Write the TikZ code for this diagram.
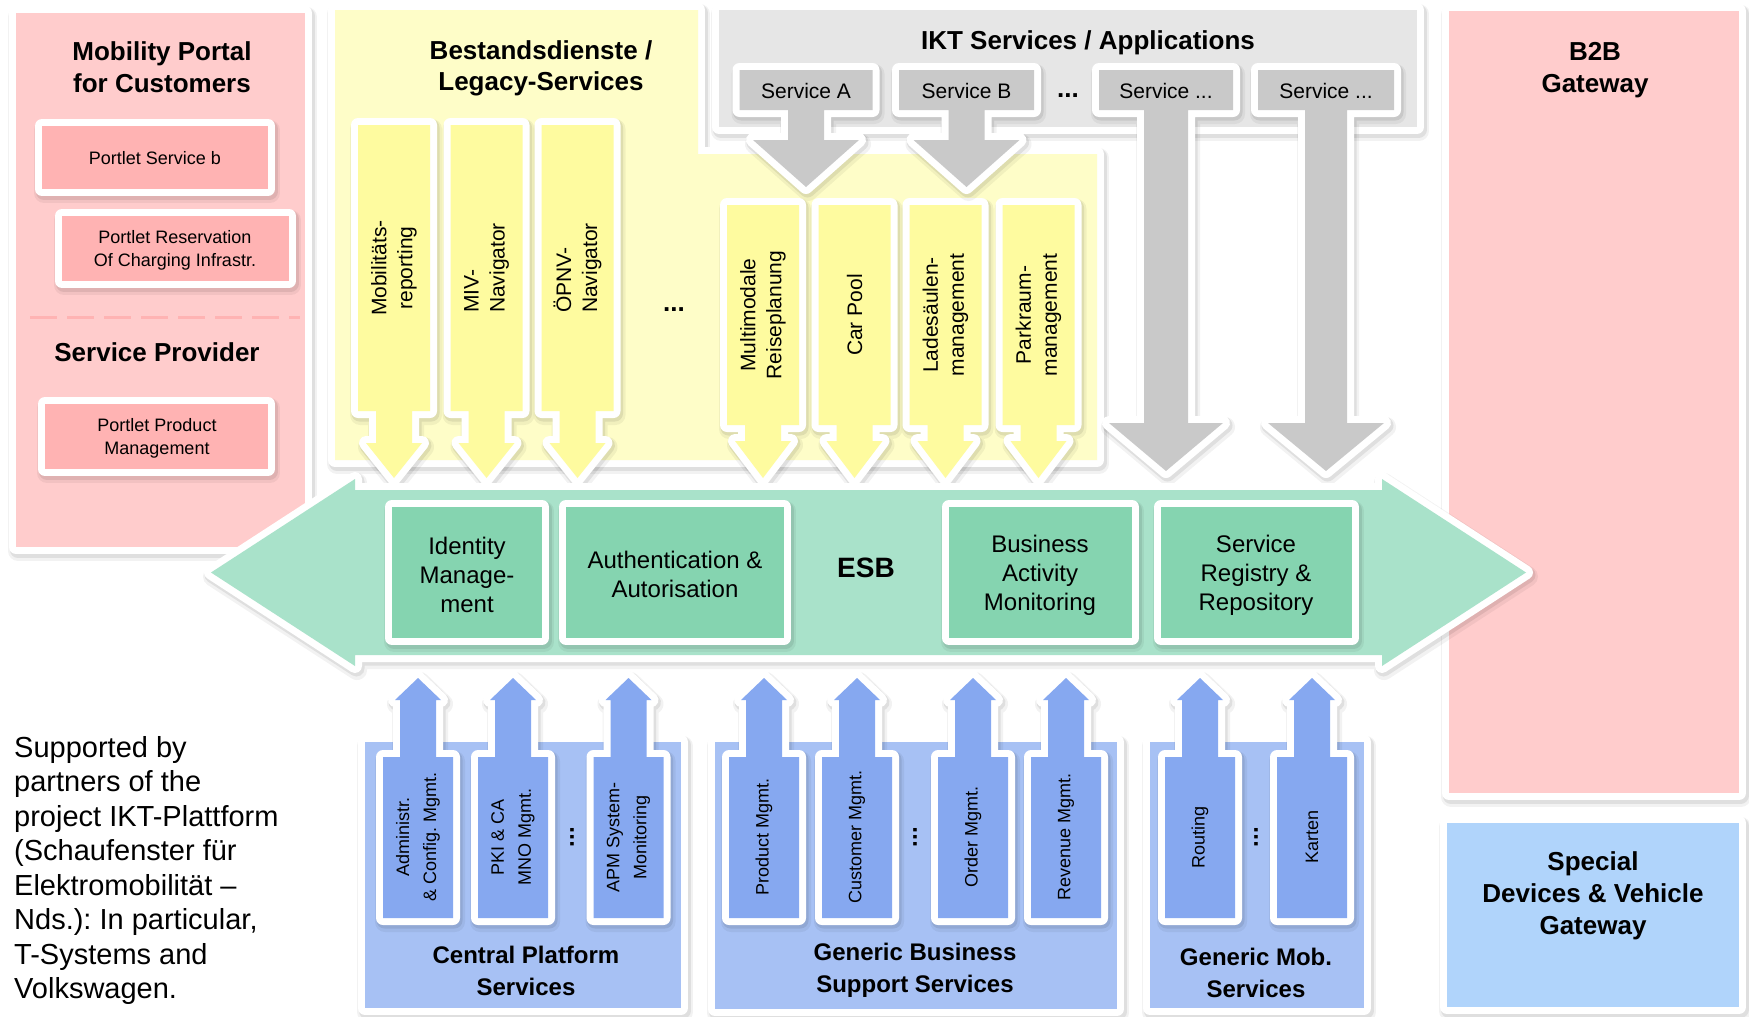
\documentclass[tikz,border=0pt]{standalone}
\usepackage{fontspec}
\setmainfont{Liberation Sans}
\frenchspacing
\newcommand\fs[2]{\fontsize{#1}{#2}\selectfont}
% outline of a vertical block arrow: centre x, body half width, body far y, body near y,
% stem half width, stem end y, head half width, tip y
\newcommand\arr[8]{({#1-#2},#3) -- ({#1+#2},#3) -- ({#1+#2},#4) -- ({#1+#5},#4) -- ({#1+#5},#6) -- ({#1+#7},#6) -- (#1,#8) -- ({#1-#7},#6) -- ({#1-#5},#6) -- ({#1-#5},#4) -- ({#1-#2},#4) -- cycle}
% a filled shape with soft shadow and white rim
\newcommand\blob[2]{\path[shA] #2; \path[shB] #2; \path[wout] #2; \path[fill=#1] #2;}
\definecolor{pinkP}{HTML}{FFCCCC}
\definecolor{pinkB}{HTML}{FFB3B3}
\definecolor{yelP}{HTML}{FEFDC8}
\definecolor{yelA}{HTML}{FEFB9F}
\definecolor{grayP}{HTML}{E6E6E6}
\definecolor{grayA}{HTML}{C9C9C9}
\definecolor{esbG}{HTML}{A9E2CA}
\definecolor{boxG}{HTML}{85D4B0}
\definecolor{blueP}{HTML}{A7C1F4}
\definecolor{blueA}{HTML}{86A8F0}
\definecolor{blueS}{HTML}{B0D4FB}
\begin{document}
\begin{tikzpicture}[x=1pt,y=-1pt,
  wout/.style={draw=white,fill=white,line width=14pt,line join=round},
  shA/.style={draw=black,fill=black,line width=20pt,line join=round,opacity=0.05,shift={(2,4)}},
  shB/.style={draw=black,fill=black,line width=16pt,line join=round,opacity=0.08,shift={(1.5,2.5)}},
  title/.style={font=\fs{26}{32}\bfseries,align=center},
  small/.style={font=\fs{18}{23},align=center},
  svc/.style={font=\fs{21}{25}},
  gtxt/.style={font=\fs{24}{29},align=center},
  ytxt/.style={font=\fs{21}{26},align=center,rotate=90},
  btxt/.style={font=\fs{18}{27},align=center,rotate=90},
  btitle/.style={font=\fs{24}{32}\bfseries,align=center},
  dots/.style={font=\fs{26}{26}\bfseries},
  vdots/.style={font=\fs{24}{24}\bfseries,rotate=90}]
\useasboundingbox (0,0) rectangle (1749,1017);
\fill[white] (0,0) rectangle (1749,1017);

% ---- panels ----
\blob{pinkP}{(16,13) rectangle (305,547)}
\blob{yelP}{(335,10) -- (698,10) -- (698,154) -- (1097,154) -- (1097,460) -- (335,460) -- cycle}
\blob{grayP}{(719,10) rectangle (1417,127)}
\blob{pinkP}{(1449,11) rectangle (1739,793)}
\blob{blueS}{(1447,823) rectangle (1739,1007)}
\blob{blueP}{(365,742) rectangle (681,1008)}
\blob{blueP}{(715,742) rectangle (1117,1009)}
\blob{blueP}{(1150,742) rectangle (1364,1008)}

% ---- portal column ----
\node[title] (portal) at (162,67) {Mobility Portal\\for Customers};
\blob{pinkB}{(42,126) rectangle (268,189)}
\node[small] (pb) at (155,158) {Portlet Service b};
\blob{pinkB}{(62,216) rectangle (289,281)}
\node[small] (pr) at (175,250) {Portlet Reservation\\Of Charging Infrastr.};
\draw[pinkB,line width=3pt,dash pattern=on 27pt off 10pt] (30,317) -- (300,317);
\node[title] (sp) at (157,352) {Service Provider};
\blob{pinkB}{(45,404) rectangle (268,469)}
\node[small] (pp) at (157,438) {Portlet Product\\Management};

% ---- legacy services ----
\node[title,font=\fs{26}{31}\bfseries] (legacy) at (541,68) {Bestandsdienste /\\Legacy-Services};
\foreach \c in {394,486.5,577.5}{\blob{yelA}{\arr{\c}{36}{125}{411}{18}{443}{28}{478}}}
\foreach \c in {763,854.5,945.5,1038.5}{\blob{yelA}{\arr{\c}{36}{205}{425}{18}{441}{28}{478}}}
\node[ytxt] (y1) at (394,268) {Mobilitäts-\\reporting};
\node[ytxt,align=left] (y2) at (486.5,268) {MIV-\\Navigator};
\node[ytxt,align=left] (y3) at (577.5,268) {ÖPNV-\\Navigator};
\node[dots] (ydots) at (674,310) {...};
\node[ytxt] (y4) at (763,315) {Multimodale\\Reiseplanung};
\node[ytxt] (y5) at (854.5,315) {Car Pool};
\node[ytxt] (y6) at (945.5,315) {Ladesäulen-\\management};
\node[ytxt] (y7) at (1038.5,315) {Parkraum-\\management};

% ---- IKT services ----
\node[title] (ikt) at (1088,43) {IKT Services / Applications};
\blob{grayA}{\arr{806}{66.5}{70}{110}{18}{140}{53}{187}}
\blob{grayA}{\arr{966.5}{67.5}{70}{110}{18}{140}{53}{187}}
\blob{grayA}{\arr{1166}{67}{70}{110}{22}{423}{57}{471}}
\blob{grayA}{\arr{1326}{68}{70}{110}{21}{423}{58}{471}}
\node[svc] (sa) at (806,91) {Service A};
\node[svc] (sb) at (966.5,91) {Service B};
\node[dots] (gdots) at (1068,96) {...};
\node[svc] (sc) at (1166,91) {Service ...};
\node[svc] (sd) at (1326,91) {Service ...};

% ---- ESB ----
\blob{esbG}{(211,572.5) -- (355,479) -- (355,490) -- (1382,490) -- (1382,479) -- (1526,572.5) -- (1382,666) -- (1382,655) -- (355,655) -- (355,666) -- cycle}
\blob{boxG}{(392,507) rectangle (542,638)}
\blob{boxG}{(566,507) rectangle (784,638)}
\blob{boxG}{(949,507) rectangle (1132,638)}
\blob{boxG}{(1161,507) rectangle (1352,638)}
\node[gtxt] (idm) at (467,575) {Identity\\Manage-\\ment};
\node[gtxt] (auth) at (675,574) {Authentication \&\\Autorisation};
\node[font=\fs{28}{28}\bfseries] (esb) at (866,568) {ESB};
\node[gtxt] (bam) at (1040,575) {Business\\Activity\\Monitoring};
\node[gtxt] (reg) at (1256,575) {Service\\Registry \&\\Repository};

% ---- base services ----
\foreach \c in {418,513,628.5,764,857,973,1066,1200,1312}{\blob{blueA}{\arr{\c}{35}{918}{757}{18}{700}{23}{678}}}
\node[btxt] (b1) at (418,837) {Administr.\\\& Config. Mgmt.};
\node[btxt] (b2) at (513,837) {PKI \& CA\\MNO Mgmt.};
\node[vdots] (bd1) at (572,837) {...};
\node[btxt] (b3) at (628.5,837) {APM System-\\Monitoring};
\node[btxt] (b4) at (764,837) {Product Mgmt.};
\node[btxt] (b5) at (857,837) {Customer Mgmt.};
\node[vdots] (bd2) at (915,837) {...};
\node[btxt] (b6) at (973,837) {Order Mgmt.};
\node[btxt] (b7) at (1066,837) {Revenue Mgmt.};
\node[btxt] (b8) at (1200,837) {Routing};
\node[vdots] (bd3) at (1256,837) {...};
\node[btxt] (b9) at (1312,837) {Karten};
\node[btitle] (cps) at (526,971) {Central Platform\\Services};
\node[btitle] (gbs) at (915,970) {Generic Business\\Support Services};
\node[btitle] (gms) at (1256,973) {Generic Mob.\\Services};

% ---- gateways ----
\node[title] (b2b) at (1595,70) {B2B\\Gateway};
\node[title] (sdv) at (1593,896) {Special\\Devices \& Vehicle\\Gateway};

% ---- credits ----
\foreach \t [count=\i] in {Supported by,partners of the,project IKT-Plattform,{(Schaufenster für},Elektromobilität –,{Nds.): In particular,},T-Systems and,Volkswagen.}
  \node[anchor=base west,font=\fs{29}{35},inner sep=0pt] (sup\i) at (14,{757+34.5*(\i-1)}) {\t};
\end{tikzpicture}
\end{document}
